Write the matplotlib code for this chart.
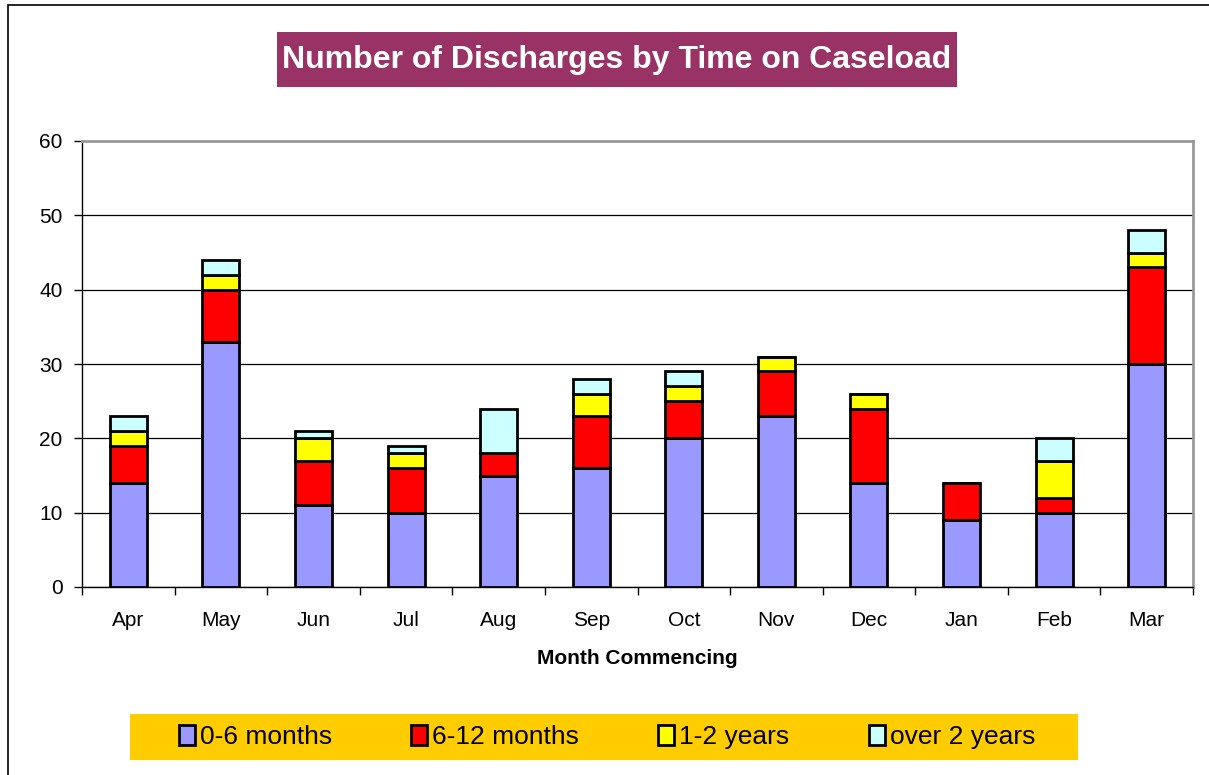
import numpy as np
from matplotlib import pyplot as plt
from matplotlib.patches import Rectangle

months = ['Apr', 'May', 'Jun', 'Jul', 'Aug', 'Sep', 'Oct', 'Nov', 'Dec', 'Jan', 'Feb', 'Mar']
series = ['0-6 months', '6-12 months', '1-2 years', 'over 2 years']
m0_6 = [14, 33, 11, 10, 15, 16, 20, 23, 14, 9, 10, 30]
m6_12 = [5, 7, 6, 6, 3, 7, 5, 6, 10, 5, 2, 13]
y1_2 = [2, 2, 3, 2, 0, 3, 2, 2, 2, 0, 5, 2]
over2 = [2, 2, 1, 1, 6, 2, 2, 0, 0, 0, 3, 3]
colors = ['#9999FF', '#FF0000', '#FFFF00', '#CCFFFF']

plt.rcParams['font.family'] = ['Liberation Sans', 'DejaVu Sans']

def main():
    fig = plt.figure(figsize=(12.09, 7.75), dpi=100)
    W, H = 1209.0, 775.0

    # outer chart frame (runs off the right and bottom edges)
    fig.patches.append(Rectangle((8 / W, -0.01), 1.02, 1 - 5 / H + 0.01, transform=fig.transFigure,
                                 fill=False, edgecolor='black', linewidth=1.2))

    ax = fig.add_axes([82 / W, 1 - 587 / H, (1193 - 82) / W, (587 - 141) / H])
    x = np.arange(len(months))
    bottom = np.zeros(len(months))
    for name, vals, col in zip(series, [m0_6, m6_12, y1_2, over2], colors):
        vals = np.array(vals, dtype=float)
        ax.bar(x, vals, 0.4, bottom=bottom, color=col, edgecolor='black', linewidth=2,
               label=name, zorder=3)
        bottom += vals

    ax.set_xlim(-0.5, len(months) - 0.5)
    ax.set_ylim(0, 60)
    ax.set_yticks(range(0, 61, 10))
    ax.yaxis.grid(True, color='black', linewidth=0.9, zorder=0)
    ax.set_axisbelow(True)
    ax.set_xticks(x)
    ax.set_xticklabels(months)
    ax.set_xticks(np.arange(-0.5, len(months)), minor=True)
    ax.tick_params(axis='x', which='major', length=0, labelsize=15, pad=17)
    ax.tick_params(axis='x', which='minor', length=6, width=1, direction='out')
    ax.tick_params(axis='y', labelsize=15, length=6, width=1, direction='out', pad=8)
    for s in ['top', 'right']:
        ax.spines[s].set_color('#999999')
        ax.spines[s].set_linewidth(2)
    for s in ['left', 'bottom']:
        ax.spines[s].set_color('black')
        ax.spines[s].set_linewidth(1)
    ax.set_xlabel('Month Commencing', fontsize=15, fontweight='bold', labelpad=14)

    # title box
    fig.patches.append(Rectangle((277 / W, 1 - 87 / H), (957 - 277) / W, 55 / H,
                                 transform=fig.transFigure, facecolor='#993366', edgecolor='none'))
    fig.text(617 / W, 1 - 60 / H, 'Number of Discharges by Time on Caseload', ha='center', va='center',
             fontsize=23, fontweight='bold', color='white')

    # legend strip
    fig.patches.append(Rectangle((130 / W, 1 - 760 / H), (1078 - 130) / W, 46 / H,
                                 transform=fig.transFigure, facecolor='#FFCC00', edgecolor='none'))
    handles, labels = ax.get_legend_handles_labels()
    leg = fig.legend(handles, labels, loc='center', bbox_to_anchor=(607 / W, 1 - 737 / H), ncol=4,
                     frameon=False, fontsize=19, handlelength=0.6, handleheight=0.8,
                     handletextpad=0.2, columnspacing=3.0)

    fig.savefig('out.png', dpi=100)

if __name__ == "__main__":
    main()
